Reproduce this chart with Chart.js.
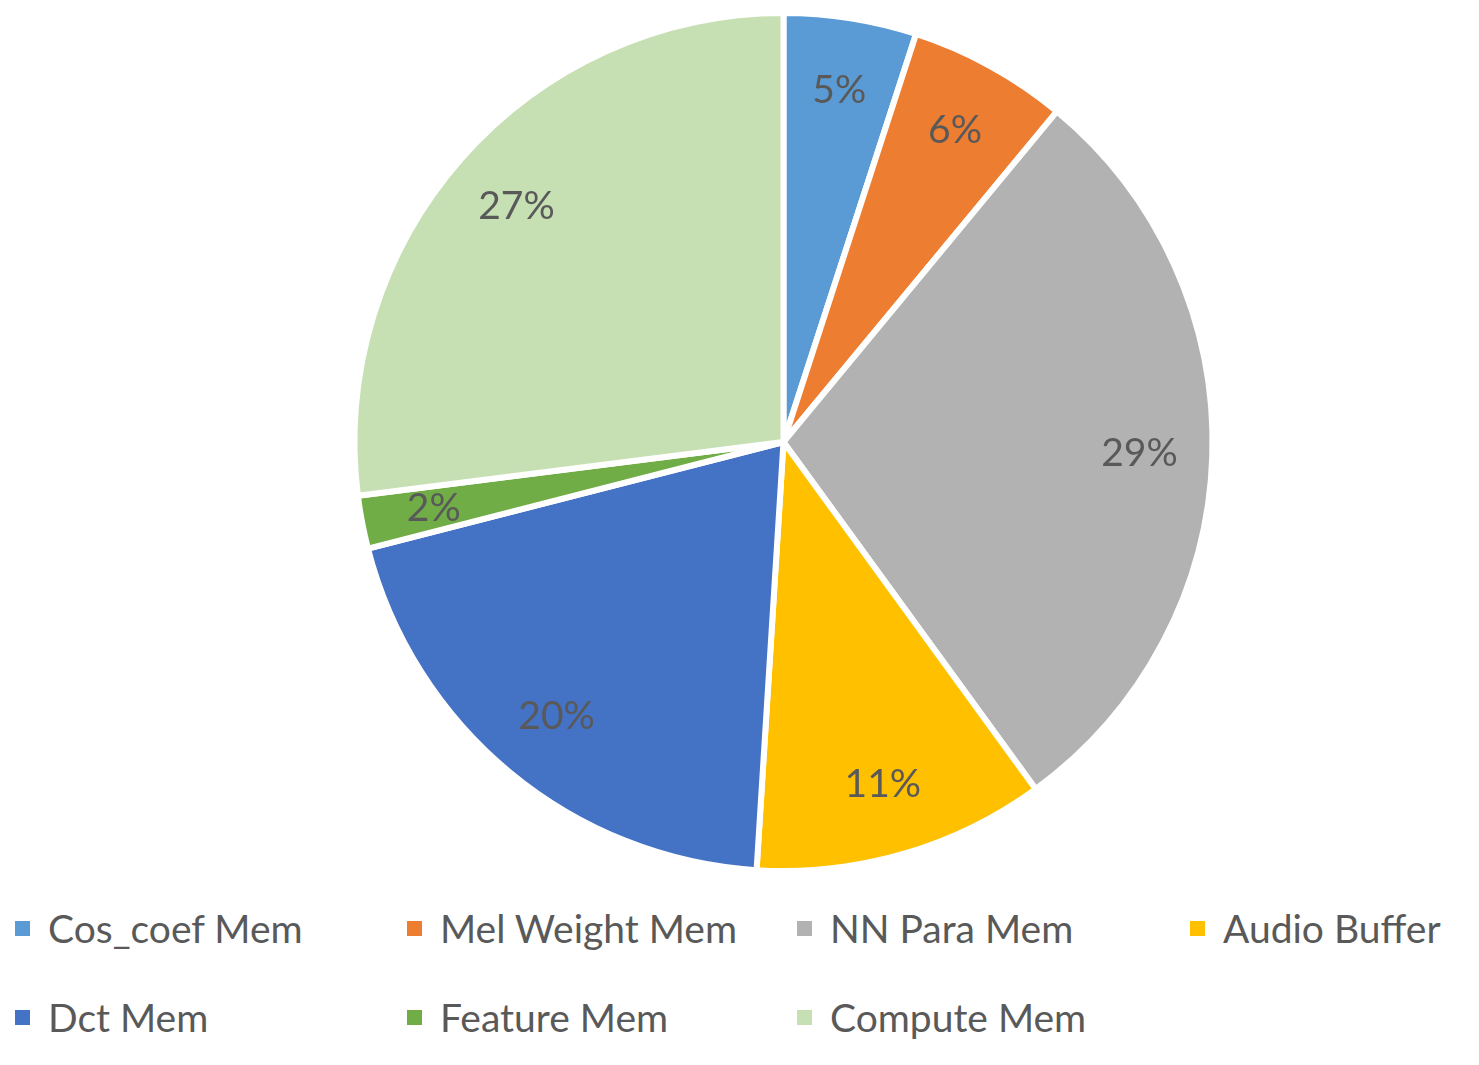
<!DOCTYPE html>
<html>
<head>
<meta charset="utf-8">
<script src="https://cdn.jsdelivr.net/npm/chart.js@4"></script>
<style>
  body { margin: 0; background: #fff; font-family: Lato, "Open Sans", sans-serif; }
  #wrap { position: absolute; left: 0; top: 0; width: 1479px; height: 884px; }
  #legend { position: absolute; left: 0; top: 905px; width: 1479px; }
  .item { position: absolute; display: flex; align-items: center; font-size: 39px; color: #595959; white-space: nowrap; }
  .box { width: 15px; height: 15px; margin-right: 18px; }
</style>
</head>
<body>
<div id="wrap"><canvas id="pie"></canvas></div>
<div id="legend"></div>
<script>
// datos del gráfico
const categorias = ['Cos_coef Mem', 'Mel Weight Mem', 'NN Para Mem', 'Audio Buffer', 'Dct Mem', 'Feature Mem', 'Compute Mem'];
const valores = [5, 6, 29, 11, 20, 2, 27];
const colores = ['#5b9bd5', '#ed7d31', '#b2b2b2', '#ffc000', '#4472c4', '#70ad47', '#c6e0b4'];

// etiquetas de porcentaje dentro de cada porción
const etiquetasPlugin = {
    id: 'etiquetas',
    afterDatasetsDraw(chart) {
        const ctx = chart.ctx;
        const meta = chart.getDatasetMeta(0);
        const total = valores.reduce((a, b) => a + b, 0);
        ctx.save();
        ctx.font = '39px Lato, "Open Sans", sans-serif';
        ctx.fillStyle = '#595959';
        ctx.textAlign = 'center';
        ctx.textBaseline = 'middle';
        meta.data.forEach((arc, i) => {
            const ang = (arc.startAngle + arc.endAngle) / 2;
            const r = arc.outerRadius * 0.83;
            const x = arc.x + Math.cos(ang) * r;
            const y = arc.y + Math.sin(ang) * r;
            ctx.fillText(Math.round(valores[i] / total * 100) + '%', x, y);
        });
        ctx.restore();
    }
};

new Chart(document.getElementById('pie'), {
    type: 'pie',
    data: {
        labels: categorias,
        datasets: [{
            data: valores,
            backgroundColor: colores,
            borderColor: '#ffffff',
            borderWidth: 6
        }]
    },
    options: {
        responsive: true,
        maintainAspectRatio: false,
        animation: false,
        layout: { padding: { left: 88, top: 10, bottom: 10 } },
        plugins: {
            legend: { display: false },
            tooltip: { enabled: false }
        }
    },
    plugins: [etiquetasPlugin]
});

// leyenda en cuadrícula de 4 columnas
const legend = document.getElementById('legend');
const colX = [15, 407, 797, 1190];
categorias.forEach((nombre, i) => {
    const div = document.createElement('div');
    div.className = 'item';
    div.style.left = colX[i % 4] + 'px';
    div.style.top = (Math.floor(i / 4) * 89) + 'px';
    div.innerHTML = `<span class="box" style="background:${colores[i]}"></span>${nombre}`;
    legend.appendChild(div);
});
</script>
</body>
</html>
